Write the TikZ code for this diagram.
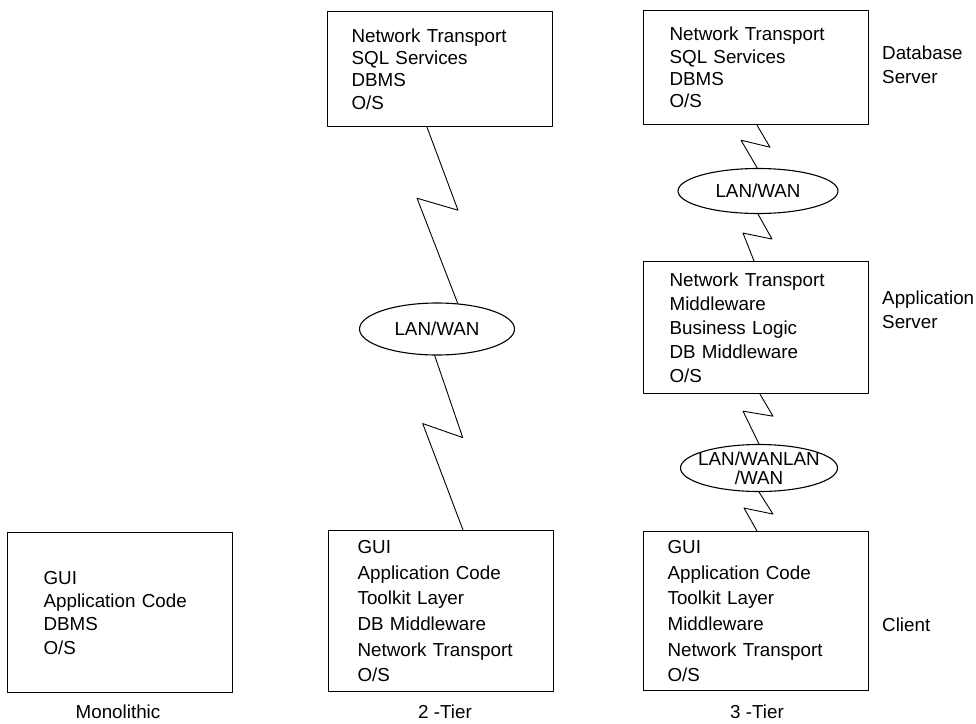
\documentclass[tikz,border=0pt]{standalone}
\usepackage{fontspec}
\setmainfont{Liberation Sans}
\usetikzlibrary{shapes.geometric}
\tikzset{
  tierbox/.style={draw, line width=1.2pt, inner xsep=0pt, minimum width=225pt, align=left, anchor=north west},
  lanwan/.style={draw, ellipse, line width=1.1pt, inner sep=0pt},
  zig/.style={line width=0.9pt},
  side/.style={align=left, anchor=west, inner sep=0pt},
}
\newcommand{\lay}[1]{\fontsize{18.8pt}{#1}\selectfont}

\begin{document}
\begin{tikzpicture}[x=1pt, y=-1pt, font=\lay{22pt}, line join=round, line cap=round]
\useasboundingbox (0,0) rectangle (976,723);
% boxes
\node[tierbox, text width=153pt, minimum height=160pt, font=\lay{23.3pt}] (mono) at (7,532) {GUI\\Application Code\\DBMS\\O/S};
\node[tierbox, text width=177pt, minimum height=115pt, font=\lay{22.3pt}] (db2) at (327,11) {Network Transport\\SQL Services\\DBMS\\O/S};
\node[tierbox, text width=167pt, minimum height=161pt, font=\lay{25.7pt}] (cl2) at (328,530) {GUI\\Application Code\\Toolkit Layer\\DB Middleware\\Network Transport\\O/S};
\node[tierbox, text width=173pt, minimum height=114pt, font=\lay{22.3pt}] (db3) at (643,10) {Network Transport\\SQL Services\\DBMS\\O/S};
\node[tierbox, text width=173pt, minimum height=132pt, font=\lay{24pt}] (app) at (643,261) {Network Transport\\Middleware\\Business Logic\\DB Middleware\\O/S};
\node[tierbox, text width=177pt, minimum height=159pt, font=\lay{25.7pt}] (cl3) at (643,531) {GUI\\Application Code\\Toolkit Layer\\Middleware\\Network Transport\\O/S};
% networks
\node[lanwan, minimum width=155pt, minimum height=52pt] (lan2) at (437,329) {LAN/WAN};
\node[lanwan, minimum width=160pt, minimum height=45pt] (lan3a) at (758,191) {LAN/WAN};
\node[lanwan, minimum width=157pt, minimum height=47pt, label={[align=center, font=\lay{19pt}]center:LAN/WANLAN\\/WAN}] (lan3b) at (759,468) {};
% links
\draw[zig] (db2.south -| 427,0) -- ++(31,83) -- ++(-41,-12) -- (lan2.51);
\draw[zig] (lan2.265) -- ++(28,82) -- ++(-40,-14) -- (cl2.north -| 463,0);
\draw[zig] (db3.south -| 757,0) -- ++(13,22) -- ++(-29,-7) -- (lan3a.92);
\draw[zig] (lan3a.south) -- ++(14,25) -- ++(-29,-6) -- (app.north -| 754,0);
\draw[zig] (app.south -| 760,0) -- ++(13,22) -- ++(-30,-5) -- (lan3b.north);
\draw[zig] (lan3b.south) -- ++(14,22) -- ++(-29,-6) -- (cl3.north -| 757,0);
% labels
\node[side, font=\lay{24pt}] (dbsrv) at (882,65) {Database\\Server};
\node[side, font=\lay{24pt}] (appsrv) at (882,310) {Application\\Server};
\node[side] (client) at (882,625) {Client};
\node (capmono) at (118,712) {Monolithic};
\node (captwo) at (445,712) {2 -Tier};
\node (capthree) at (757,712) {3 -Tier};
\end{tikzpicture}
\end{document}
